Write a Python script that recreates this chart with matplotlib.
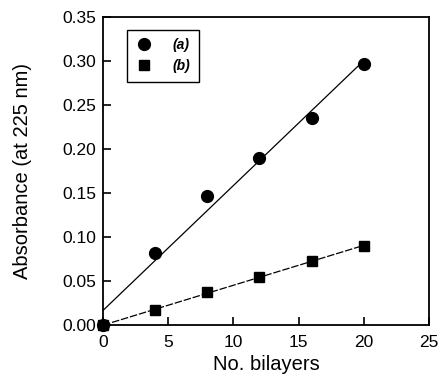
import numpy as np
import matplotlib
matplotlib.use('Agg')
import matplotlib.pyplot as plt

plt.rcParams['font.family'] = ['Liberation Sans', 'DejaVu Sans']

bilayers = [0, 4, 8, 12, 16, 20]
abs_a = [0.0, 0.082, 0.147, 0.190, 0.235, 0.297]
abs_b = [0.0, 0.017, 0.037, 0.054, 0.073, 0.090]

fig = plt.figure(figsize=(4.41, 3.8), dpi=100)
ax = fig.add_axes([0.2336, 0.1447, 0.7392, 0.8106])

# linear fits through the points
xx = np.array([0, 20])
pa = np.polyfit(bilayers, abs_a, 1)
pb = np.polyfit(bilayers, abs_b, 1)
ax.plot(xx, np.polyval(pa, xx), color='black', lw=0.9)
ax.plot(xx, np.polyval(pb, xx), color='black', lw=0.9, ls=(0, (6, 1.5)))

ax.plot(bilayers, abs_a, 'o', color='black', ms=8.5, label='(a)', clip_on=False)
ax.plot(bilayers, abs_b, 's', color='black', ms=7.5, label='(b)', clip_on=False)

ax.set_xlim(0, 25)
ax.set_ylim(0, 0.35)
ax.set_xticks([0, 5, 10, 15, 20, 25])
ax.set_yticks(np.arange(0, 0.351, 0.05))
ax.set_yticklabels(['%.2f' % v for v in np.arange(0, 0.351, 0.05)])
ax.tick_params(direction='in', length=6, width=1.2, labelsize=12.5, pad=5)
ax.tick_params(axis='x', pad=7)
for s in ax.spines.values():
    s.set_linewidth(1.3)

ax.set_xlabel('No. bilayers', fontsize=14.5, labelpad=4)
ax.set_ylabel('Absorbance (at 225 nm)', fontsize=14.5, labelpad=22)

leg = ax.legend(loc='upper left', bbox_to_anchor=(0.074, 0.958), borderaxespad=0,
                fancybox=False, edgecolor='black', handlelength=1.2, handletextpad=1.5,
                prop={'weight': 'bold', 'style': 'italic', 'size': 10}, borderpad=0.6,
                labelspacing=0.5, framealpha=1)
leg.get_frame().set_linewidth(1.0)

fig.savefig('out.png', dpi=100)
